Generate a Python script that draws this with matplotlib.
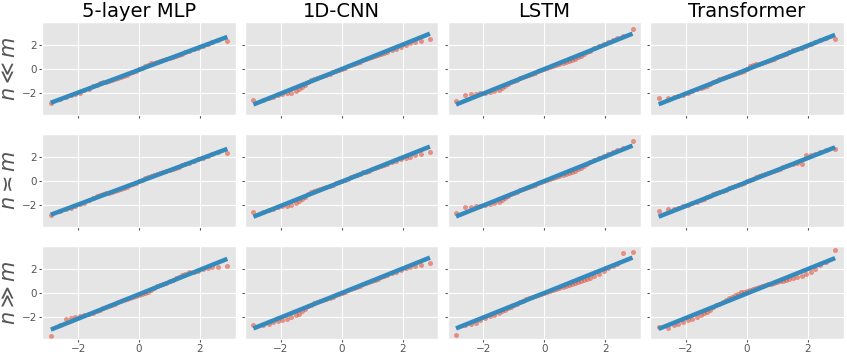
import matplotlib
matplotlib.use("Agg")
import matplotlib.pyplot as plt
import numpy as np

plt.style.use("ggplot")

models = ["5-layer MLP", "1D-CNN", "LSTM", "Transformer"]
regimes = [r"$n \ll m$", r"$n \asymp m$", r"$n \gg m$"]

# theoretical quantiles (x) shared by every panel
theo = [-2.9, -2.6, -2.4, -2.25, -2.1, -1.95, -1.8, -1.65, -1.5, -1.4, -1.3, -1.2,
        -1.1, -1.0, -0.9, -0.8, -0.7, -0.6, -0.5, -0.4, -0.3, -0.2, -0.1, 0.0,
        0.1, 0.2, 0.3, 0.4, 0.5, 0.6, 0.7, 0.8, 0.9, 1.0, 1.1, 1.2, 1.3, 1.4,
        1.5, 1.65, 1.8, 1.95, 2.1, 2.25, 2.4, 2.6, 2.9]

# ordered sample values
mlp_small = [-2.75, -2.48, -2.30, -2.16, -2.02, -1.92, -1.75, -1.60, -1.42, -1.27, -1.15, -1.08,
             -1.02, -0.97, -0.90, -0.82, -0.74, -0.66, -0.58, -0.48, -0.36, -0.24, -0.14, -0.03,
             0.08, 0.22, 0.36, 0.46, 0.52, 0.58, 0.66, 0.76, 0.84, 0.90, 0.98, 1.06, 1.16, 1.27,
             1.36, 1.50, 1.64, 1.76, 1.90, 2.05, 2.22, 2.38, 2.30]
cnn_small = [-2.57, -2.55, -2.38, -2.25, -2.12, -2.05, -2.00, -1.95, -1.82, -1.65, -1.45, -1.30,
             -1.05, -0.90, -0.82, -0.72, -0.62, -0.54, -0.46, -0.38, -0.28, -0.18, -0.08, 0.02,
             0.12, 0.22, 0.33, 0.43, 0.52, 0.62, 0.72, 0.80, 0.88, 0.97, 1.07, 1.17, 1.26, 1.35,
             1.43, 1.55, 1.68, 1.80, 1.95, 2.10, 2.20, 2.30, 2.45]
lstm_small = [-2.65, -2.13, -2.05, -2.05, -2.00, -1.95, -1.90, -1.82, -1.70, -1.55, -1.38, -1.22,
              -1.08, -0.97, -0.86, -0.76, -0.66, -0.56, -0.47, -0.38, -0.29, -0.19, -0.09, 0.01,
              0.10, 0.19, 0.28, 0.36, 0.45, 0.53, 0.61, 0.68, 0.77, 0.86, 0.96, 1.08, 1.22, 1.36,
              1.52, 1.70, 1.86, 2.02, 2.20, 2.40, 2.58, 2.72, 3.30]
trf_small = [-2.35, -2.34, -2.30, -2.22, -2.10, -1.95, -1.78, -1.65, -1.55, -1.48, -1.35, -1.20,
             -1.08, -0.96, -0.85, -0.76, -0.68, -0.60, -0.50, -0.42, -0.34, -0.25, -0.12, 0.04,
             0.22, 0.32, 0.38, 0.44, 0.52, 0.60, 0.68, 0.76, 0.85, 0.95, 1.06, 1.16, 1.27, 1.40,
             1.55, 1.66, 1.76, 1.90, 2.05, 2.20, 2.35, 2.55, 2.43]

mlp_equal = [-2.76, -2.47, -2.31, -2.17, -2.03, -1.90, -1.76, -1.58, -1.41, -1.26, -1.14, -1.07,
             -1.01, -0.96, -0.90, -0.83, -0.75, -0.67, -0.57, -0.47, -0.35, -0.23, -0.13, -0.02,
             0.09, 0.23, 0.36, 0.45, 0.52, 0.59, 0.67, 0.76, 0.84, 0.91, 0.99, 1.07, 1.17, 1.28,
             1.37, 1.51, 1.65, 1.77, 1.91, 2.06, 2.22, 2.40, 2.32]
cnn_equal = [-2.52, -2.56, -2.40, -2.27, -2.14, -2.06, -2.01, -1.95, -1.83, -1.66, -1.47, -1.31,
             -1.08, -0.93, -0.84, -0.74, -0.64, -0.56, -0.48, -0.39, -0.30, -0.20, -0.10, 0.00,
             0.10, 0.20, 0.31, 0.41, 0.50, 0.60, 0.70, 0.78, 0.86, 0.95, 1.05, 1.15, 1.24, 1.33,
             1.41, 1.53, 1.65, 1.78, 1.92, 1.98, 2.10, 2.18, 2.36]
lstm_equal = [-2.60, -2.15, -2.10, -2.06, -2.01, -1.96, -1.90, -1.82, -1.70, -1.55, -1.38, -1.22,
              -1.08, -0.97, -0.86, -0.76, -0.66, -0.56, -0.47, -0.38, -0.29, -0.19, -0.09, 0.01,
              0.10, 0.19, 0.28, 0.36, 0.45, 0.53, 0.61, 0.68, 0.77, 0.86, 0.96, 1.08, 1.22, 1.36,
              1.52, 1.70, 1.86, 2.02, 2.20, 2.40, 2.58, 2.72, 3.30]
trf_equal = [-2.47, -2.30, -2.28, -2.20, -2.08, -1.96, -1.82, -1.70, -1.56, -1.45, -1.33, -1.22,
             -1.10, -0.99, -0.89, -0.80, -0.70, -0.61, -0.52, -0.43, -0.33, -0.23, -0.13, -0.02,
             0.08, 0.18, 0.30, 0.42, 0.50, 0.58, 0.66, 0.75, 0.84, 0.93, 1.02, 1.12, 1.22, 1.32,
             1.40, 1.50, 1.43, 2.10, 2.14, 2.22, 2.39, 2.52, 2.64]

mlp_large = [-3.50, -2.60, -2.10, -2.03, -1.98, -1.85, -1.78, -1.72, -1.60, -1.48, -1.36, -1.25,
             -1.15, -1.05, -0.95, -0.86, -0.76, -0.66, -0.58, -0.50, -0.40, -0.32, -0.24, -0.15,
             -0.08, -0.02, 0.08, 0.24, 0.40, 0.55, 0.66, 0.75, 0.84, 0.95, 1.08, 1.20, 1.32, 1.45,
             1.58, 1.70, 1.74, 1.82, 1.95, 2.05, 2.12, 2.15, 2.25]
cnn_large = [-2.60, -2.62, -2.50, -2.38, -2.28, -2.20, -2.10, -1.98, -1.84, -1.68, -1.48, -1.30,
             -1.10, -0.95, -0.85, -0.75, -0.65, -0.56, -0.47, -0.38, -0.29, -0.19, -0.09, 0.01,
             0.11, 0.21, 0.31, 0.41, 0.51, 0.61, 0.71, 0.80, 0.89, 0.98, 1.08, 1.18, 1.28, 1.38,
             1.47, 1.60, 1.74, 1.88, 2.02, 2.12, 2.22, 2.32, 2.45]
lstm_large = [-3.40, -2.65, -2.55, -2.42, -2.25, -2.08, -1.92, -1.78, -1.62, -1.50, -1.38, -1.25,
              -1.12, -0.98, -0.86, -0.74, -0.63, -0.52, -0.42, -0.33, -0.24, -0.15, -0.06, 0.03,
              0.12, 0.20, 0.28, 0.36, 0.44, 0.52, 0.60, 0.68, 0.76, 0.84, 0.90, 0.96, 1.04, 1.12,
              1.22, 1.38, 1.58, 1.82, 2.05, 2.22, 2.40, 3.30, 3.35]
trf_large = [-2.80, -2.84, -2.62, -2.52, -2.40, -2.25, -2.12, -1.98, -1.80, -1.66, -1.52, -1.38,
             -1.15, -1.00, -0.88, -0.75, -0.60, -0.45, -0.32, -0.20, -0.05, 0.05, 0.12, 0.20,
             0.28, 0.35, 0.42, 0.48, 0.55, 0.62, 0.70, 0.76, 0.82, 0.88, 0.95, 1.00, 1.05, 1.12,
             1.20, 1.30, 1.42, 1.58, 1.75, 2.00, 2.30, 2.55, 3.52]

# fitted reference line per panel: (slope, intercept)
fit_small = [(0.93, -0.06), (1.00, 0.00), (1.00, 0.00), (0.98, -0.04)]
fit_equal = [(0.93, -0.06), (0.99, -0.05), (1.00, 0.00), (0.98, -0.08)]
fit_large = [(1.00, -0.10), (1.00, 0.00), (1.00, 0.00), (1.00, -0.04)]

samples = [[mlp_small, cnn_small, lstm_small, trf_small],
           [mlp_equal, cnn_equal, lstm_equal, trf_equal],
           [mlp_large, cnn_large, lstm_large, trf_large]]
fits = [fit_small, fit_equal, fit_large]

fig, axes = plt.subplots(3, 4, figsize=(8.47, 3.56), dpi=100, sharex=True, sharey=True)
plt.subplots_adjust(left=0.05, right=0.996, top=0.938, bottom=0.048, wspace=0.047, hspace=0.205)

x = np.array(theo)
xl = np.array([theo[0], theo[-1]])
for r in range(3):
    for c in range(4):
        ax = axes[r, c]
        ax.plot(x, samples[r][c], 'o', color='#E24A33', alpha=0.55, ms=3.6, mew=0)
        s, b = fits[r][c]
        ax.plot(xl, s * xl + b, '-', color='#348ABD', lw=3.2, solid_capstyle='butt')
        ax.set_xlim(-3.18, 3.18)
        ax.set_ylim(-3.76, 3.85)
        ax.set_xticks([-2, 0, 2])
        ax.set_yticks([-2, 0, 2])
        ax.tick_params(labelsize=7.5, length=2, pad=2)
        if r == 0:
            ax.set_title(models[c], fontsize=14, pad=4)
        if c == 0:
            ax.set_ylabel(regimes[r], fontsize=15, color='#555555', labelpad=2)

fig.savefig("out.png", dpi=100)
